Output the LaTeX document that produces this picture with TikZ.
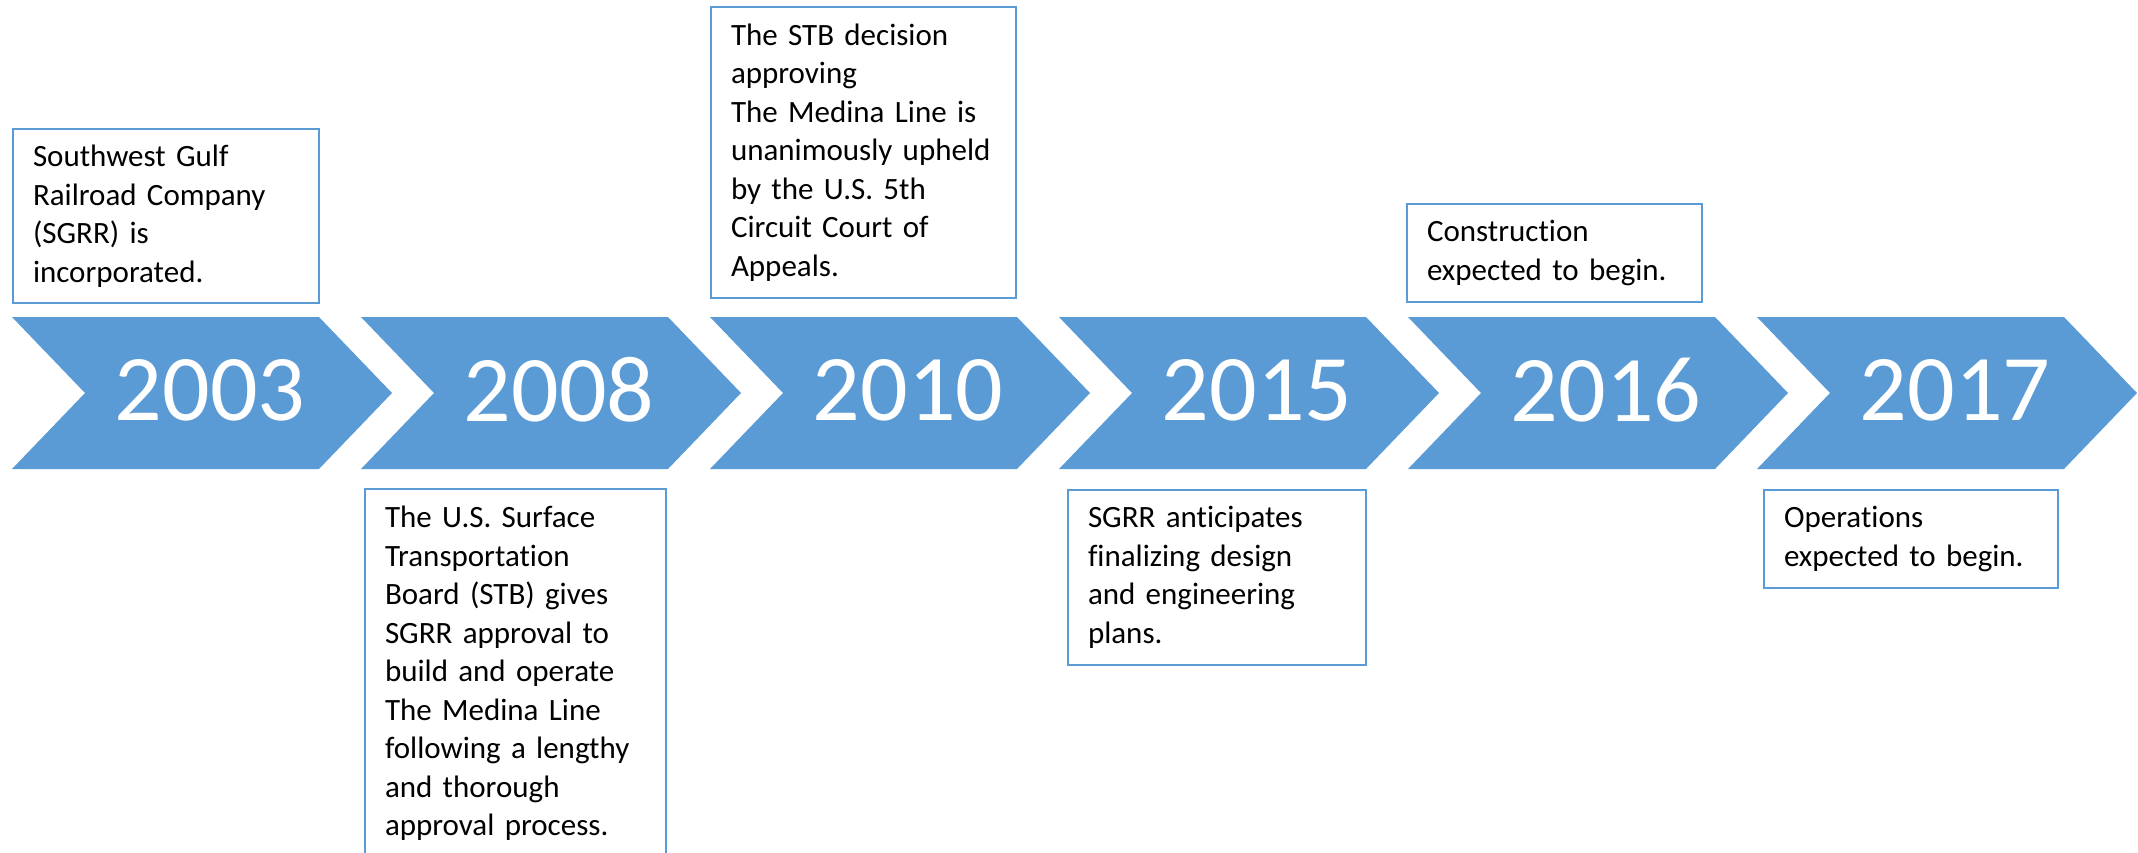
\documentclass[tikz,border=0pt]{standalone}
\usepackage{fontspec}
\setmainfont{Carlito}[Ligatures=NoCommon]
\definecolor{chev}{HTML}{5B9BD5}
\begin{document}
\begin{tikzpicture}[x=0.5pt,y=-0.5pt,
  chevshape/.style={fill=chev},
  yearlbl/.style={text=white,font=\fontsize{47}{56}\selectfont,inner sep=0pt},
  evbox/.style={draw=chev,line width=1pt,fill=white,align=left,inner xsep=10pt,inner ysep=0pt,
    anchor=north west,font=\fontsize{15.5}{19.25}\selectfont}]
\useasboundingbox (0,0) rectangle (2138,852);
\clip (0,0) rectangle (2138,852);
\foreach \yr [count=\i from 0] in {2003,2008,2010,2015,2016,2017} {
  \pgfmathsetmacro\L{12+349*\i}
  \fill[chevshape] (\L,317) -- ++(307,0) -- ++(73,76) -- ++(-73,76) -- ++(-307,0) -- ++(73,-76) -- cycle;
  \node[yearlbl] (y\yr) at (\L+198,390) {\yr};
}
\node[evbox,text width=133pt,minimum height=87pt] (b1) at (12,128)
  {Southwest Gulf\\Railroad Company\\(SGRR) is\\incorporated.};
\node[evbox,text width=130.5pt,minimum height=184.5pt] (b2) at (364,488)
  {The U.S. Surface\\Transportation\\Board (STB) gives\\SGRR approval to\\build and operate\\The Medina Line\\following a lengthy\\and thorough\\approval process.};
\node[evbox,text width=132.5pt,minimum height=145.5pt] (b3) at (710,6)
  {The STB decision\\approving\\The Medina Line is\\unanimously upheld\\by the U.S. 5th\\Circuit Court of\\Appeals.};
\node[evbox,text width=129pt,minimum height=87.5pt] (b4) at (1067,489)
  {SGRR anticipates\\finalizing design\\and engineering\\plans.};
\node[evbox,text width=127.5pt,minimum height=49pt] (b5) at (1406,203)
  {Construction\\expected to begin.};
\node[evbox,text width=127pt,minimum height=49pt] (b6) at (1763,489)
  {Operations\\expected to begin.};
\end{tikzpicture}
\end{document}
